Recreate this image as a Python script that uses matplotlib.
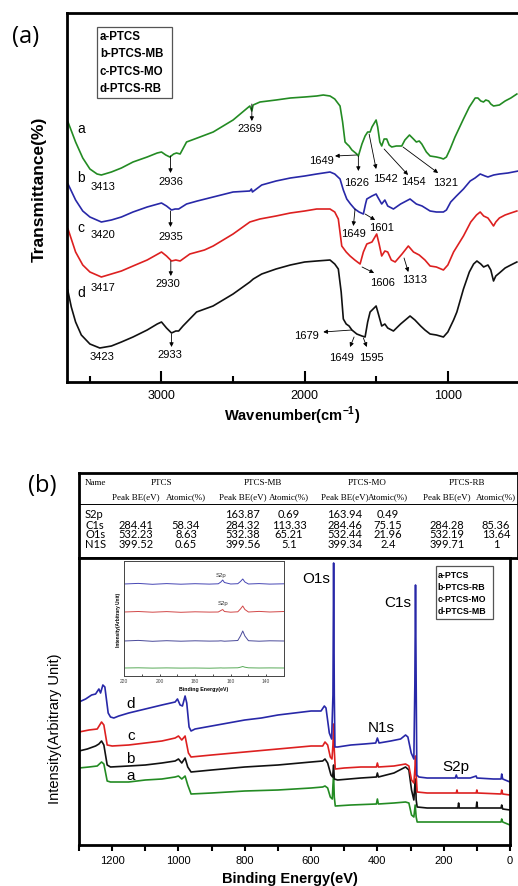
import matplotlib
matplotlib.use("Agg")
import matplotlib.pyplot as plt
from matplotlib.patches import Rectangle
from matplotlib.ticker import MultipleLocator

plt.rcParams.update({
    "font.family": ["Liberation Sans", "DejaVu Sans"],
    "font.size": 9,
    "mathtext.fontset": "custom",
    "mathtext.rm": "Liberation Sans",
    "mathtext.bf": "Liberation Sans:bold",
})

W, H = 518, 887

# ---------------- (a) FTIR spectra: wavenumber (cm-1) vs offset transmittance
ftir_a_x = [3653, 3600, 3550, 3500, 3450, 3420, 3350, 3280, 3199, 3100, 3030, 3000, 2970, 2942,
            2915, 2895, 2870, 2825, 2750, 2639, 2500, 2400, 2383, 2369, 2360, 2312, 2200, 2100,
            2000, 1916, 1870, 1823, 1790, 1753, 1735, 1718, 1705, 1690, 1670, 1636, 1625, 1600,
            1578, 1560, 1543, 1530, 1501, 1490, 1475, 1462, 1445, 1427, 1410, 1392, 1360, 1322,
            1300, 1268, 1240, 1220, 1200, 1182, 1150, 1124, 1080, 1050, 1031, 1010, 984, 950,
            891, 850, 809, 790, 770, 751, 735, 715, 700, 681, 640, 600, 560, 518]
ftir_a_y = [260, 240, 224, 213, 208, 207, 210, 214, 220, 225, 229, 230, 227, 225,
            228, 229, 228, 240, 244, 250, 262, 274, 276, 271, 277, 280, 282, 284,
            285, 286, 287, 286, 283, 276, 260, 240, 238, 236, 232, 228, 226, 238,
            246, 250, 250, 255, 262, 255, 240, 236, 243, 243, 237, 235, 236, 236,
            242, 247, 243, 240, 241, 238, 230, 226, 225, 224, 223, 225, 233, 245,
            263, 275, 284, 284, 281, 280, 282, 281, 278, 276, 277, 281, 284, 288]

ftir_b_x = [3653, 3600, 3550, 3500, 3420, 3350, 3280, 3199, 3100, 3000, 2965, 2930, 2905, 2880,
            2825, 2750, 2639, 2500, 2383, 2372, 2365, 2300, 2200, 2100, 2000, 1916, 1823, 1790,
            1753, 1730, 1706, 1680, 1650, 1620, 1590, 1575, 1566, 1530, 1501, 1490, 1462, 1440,
            1420, 1380, 1330, 1264, 1220, 1180, 1124, 1080, 1031, 1010, 980, 940, 891, 844,
            810, 774, 740, 720, 680, 640, 580, 508]
ftir_b_y = [198, 182, 171, 165, 160, 162, 165, 170, 175, 179, 176, 172, 173, 173,
            178, 181, 185, 190, 191, 193, 190, 197, 201, 204, 206, 208, 210, 208,
            203, 192, 183, 178, 173, 170, 168, 178, 183, 186, 188, 185, 178, 182,
            176, 173, 178, 183, 178, 176, 171, 170, 170, 172, 180, 186, 193, 201,
            204, 208, 206, 205, 207, 208, 209, 211]

ftir_c_x = [3653, 3600, 3550, 3500, 3420, 3350, 3280, 3199, 3100, 3000, 2965, 2930, 2900, 2870,
            2802, 2700, 2639, 2500, 2383, 2313, 2200, 2100, 2000, 1916, 1823, 1790, 1765, 1741,
            1710, 1683, 1650, 1613, 1590, 1566, 1530, 1497, 1480, 1462, 1440, 1420, 1395, 1368,
            1320, 1276, 1240, 1200, 1160, 1124, 1080, 1031, 1000, 960, 891, 840, 800, 774,
            750, 720, 700, 681, 665, 640, 600, 560, 518]
ftir_c_y = [153, 130, 117, 110, 105, 108, 111, 116, 122, 130, 126, 121, 122, 121,
            128, 132, 136, 148, 160, 163, 166, 169, 171, 173, 173, 170, 163, 136,
            130, 126, 122, 118, 130, 138, 140, 148, 138, 126, 131, 130, 122, 120,
            128, 136, 130, 127, 122, 116, 115, 112, 117, 130, 146, 160, 167, 170,
            166, 164, 160, 156, 160, 164, 167, 169, 171]

ftir_d_x = [3655, 3630, 3600, 3560, 3500, 3431, 3350, 3280, 3199, 3100, 3030, 3000, 2965, 2930,
            2900, 2880, 2850, 2755, 2640, 2500, 2383, 2359, 2300, 2200, 2100, 2000, 1916, 1823,
            1790, 1765, 1745, 1730, 1710, 1690, 1670, 1636, 1600, 1578, 1560, 1543, 1501, 1485,
            1462, 1440, 1420, 1380, 1330, 1264, 1230, 1190, 1160, 1124, 1080, 1031, 1000, 960,
            937, 891, 850, 820, 797, 770, 750, 720, 700, 681, 665, 640, 600, 560, 518]
ftir_d_y = [92, 75, 60, 47, 38, 34, 36, 40, 45, 52, 58, 60, 54, 49,
            51, 51, 56, 70, 76, 88, 100, 103, 108, 113, 117, 120, 121, 122,
            118, 113, 90, 63, 58, 56, 52, 48, 46, 45, 60, 70, 76, 68,
            56, 58, 54, 51, 58, 66, 62, 56, 52, 48, 47, 45, 50, 62,
            70, 93, 110, 118, 121, 118, 115, 117, 112, 101, 106, 109, 114, 117, 120]

ftir_labels = ["a-PTCS", "b-PTCS-MB", "c-PTCS-MO", "d-PTCS-RB"]

# peak annotations: text, text position, arrow tail, arrow head
ftir_peaks = [
    ("3413", (3410, 196), None, None),
    ("2936", (2937, 201), (2937, 226), (2937, 209)),
    ("2369", (2383, 254), (2369, 278), (2369, 261)),
    ("1649", (1881, 222), (1636, 227), (1788, 226)),
    ("1626", (1636, 200), (1625, 226), (1625, 211)),
    ("1542", (1438, 204), (1550, 248), (1501, 213)),
    ("1454", (1243, 201), (1445, 233), (1278, 207)),
    ("1321", (1019, 200), (1313, 235), (1068, 209)),
    ("3420", (3408, 148), None, None),
    ("2935", (2937, 146), (2937, 171), (2937, 155)),
    ("1649", (1660, 149), (1648, 173), (1660, 156)),
    ("1601", (1462, 155), (1578, 168), (1508, 162)),
    ("3417", (3408, 95), None, None),
    ("2930", (2954, 99), (2935, 121), (2935, 106)),
    ("1606", (1455, 100), (1599, 115), (1515, 109)),
    ("1313", (1229, 103), (1306, 124), (1276, 110)),
    ("3423", (3413, 26), None, None),
    ("2933", (2942, 28), (2930, 48), (2930, 35)),
    ("1679", (1986, 47), (1671, 52), (1870, 50)),
    ("1649", (1741, 25), (1655, 45), (1683, 35)),
    ("1595", (1531, 25), (1590, 44), (1566, 35)),
]

# ---------------- (b) XPS survey: binding energy (eV) vs offset intensity
xps_d_x = [1300, 1280, 1262, 1250, 1240, 1235, 1228, 1222, 1212, 1205, 1195, 1180, 1150, 1100,
           1050, 1010, 1003, 995, 988, 980, 975, 968, 962, 950, 900, 850, 800, 750, 700, 650,
           600, 570, 560, 555, 545, 538, 534, 532, 530, 528, 520, 480, 440, 405, 400, 395, 360,
           330, 315, 308, 298, 290, 287, 285, 283, 281, 275, 250, 200, 165, 162, 159, 120, 102,
           100, 50, 27, 25, 22, 0]
xps_d_y = [143, 146, 150, 151, 156, 152, 160, 158, 132, 128, 127, 129, 132, 136,
           140, 143, 146, 140, 139, 149, 142, 118, 114, 116, 119, 122, 125, 127, 130, 132,
           134, 134, 139, 137, 112, 106, 150, 282, 150, 98, 98, 100, 101, 102, 107, 102, 104,
           106, 110, 108, 92, 86, 160, 260, 160, 70, 68, 67, 67, 67, 70, 67, 67, 69,
           67, 66, 66, 71, 66, 63]

xps_c_x = [1300, 1270, 1245, 1232, 1225, 1215, 1200, 1150, 1100, 1050, 1010, 1000, 990, 980,
           970, 962, 900, 800, 700, 600, 565, 558, 550, 542, 537, 534, 532, 530, 527, 500,
           450, 403, 400, 397, 350, 315, 305, 297, 290, 287, 285, 283, 280, 250, 200, 162,
           160, 158, 102, 100, 98, 27, 25, 22, 0]
xps_c_y = [113, 115, 116, 123, 120, 100, 99, 100, 102, 104, 107, 109, 105, 109,
           92, 88, 90, 93, 96, 99, 99, 103, 100, 88, 86, 100, 121, 95, 76, 77,
           78, 78, 82, 78, 79, 81, 79, 65, 62, 75, 89, 70, 53, 52, 52, 52,
           55, 52, 52, 55, 52, 51, 55, 51, 50]

xps_b_x = [1300, 1275, 1250, 1240, 1232, 1225, 1215, 1205, 1150, 1100, 1050, 1010, 1000, 990,
           980, 972, 962, 900, 800, 700, 600, 565, 558, 550, 540, 535, 532, 530, 520, 450,
           403, 400, 397, 350, 315, 305, 297, 290, 287, 285, 283, 280, 250, 200, 157, 155,
           153, 102, 100, 98, 27, 25, 22, 0]
xps_b_y = [94, 96, 99, 101, 104, 100, 80, 78, 79, 80, 82, 84, 86, 82,
           87, 78, 73, 75, 78, 80, 83, 84, 86, 82, 70, 68, 80, 66, 65, 67,
           68, 72, 68, 72, 78, 75, 55, 45, 60, 66, 45, 38, 37, 37, 37, 42,
           37, 37, 43, 37, 37, 40, 36, 35]

xps_a_x = [1300, 1270, 1245, 1232, 1225, 1215, 1205, 1150, 1100, 1050, 1010, 1000, 990, 980,
           972, 962, 900, 800, 700, 600, 565, 558, 550, 542, 536, 534, 532, 530, 527, 480,
           403, 400, 397, 350, 315, 305, 297, 290, 286, 283, 280, 250, 200, 100, 27, 25, 22, 0]
xps_a_y = [77, 78, 79, 83, 81, 64, 63, 63, 65, 66, 68, 69, 66, 69,
           60, 51, 52, 54, 55, 57, 58, 59, 57, 48, 46, 60, 69, 48, 39, 40,
           41, 46, 41, 42, 43, 42, 30, 28, 40, 28, 23, 23, 23, 23, 23, 26, 23, 20]

xps_labels = ["a-PTCS", "b-PTCS-RB", "c-PTCS-MO", "d-PTCS-MB"]

# S2p inset
inset_x = [220, 212, 204, 196, 188, 180, 172, 167, 165.5, 164.5, 163.5, 160, 156, 154.5, 153.2,
           152, 150, 144, 138, 130]
inset_top = [92, 92.6, 91.7, 92.4, 91.8, 92.3, 91.9, 92.2, 94, 96, 93.5, 92, 92.3, 94.5, 97,
             94, 92, 92.4, 91.9, 92.2]
inset_red = [64, 64.5, 63.8, 64.4, 63.7, 64.2, 63.9, 64, 65.5, 66.5, 64.5, 63.8, 64.2, 67, 70,
             66.5, 64, 64.6, 64, 64.5]
inset_mid = [35, 35.6, 34.7, 35.3, 34.8, 35.2, 34.9, 35, 35.2, 35, 34.8, 35.1, 35.5, 40, 45,
             40, 35.3, 34.8, 35.2, 35]
inset_green = [8, 8.2, 7.9, 8.1, 7.9, 8, 7.8, 8, 8.1, 8, 8, 8.1, 8.2, 8.8, 9.5,
               8.8, 8.2, 8, 8.1, 8]

# XPS table
tbl_samples = ["PTCS", "PTCS-MB", "PTCS-MO", "PTCS-RB"]
tbl_rows = ["S2p", "C1s", "O1s", "N1S"]
tbl_ptcs = [["", "284.41", "532.23", "399.52"], ["", "58.34", "8.63", "0.65"]]
tbl_mb = [["163.87", "284.32", "532.38", "399.56"], ["0.69", "113.33", "65.21", "5.1"]]
tbl_mo = [["163.94", "284.46", "532.44", "399.34"], ["0.49", "75.15", "21.96", "2.4"]]
tbl_rb = [["", "284.28", "532.19", "399.71"], ["", "85.36", "13.64", "1"]]

GREEN, BLUE, RED, BLACK = "#238b23", "#2828a8", "#dd2020", "#111111"


def fx(px):
    return px / W


def fy(py):
    return 1 - py / H


def add_legend_box(fig, x0, y0, x1, y1, labels, text_x, text_ys, size):
    fig.patches.append(Rectangle((fx(x0), fy(y1)), fx(x1) - fx(x0), fy(y0) - fy(y1),
                                 transform=fig.transFigure, facecolor="white",
                                 edgecolor="#555555", lw=0.9))
    for lab, ty in zip(labels, text_ys):
        fig.text(fx(text_x), fy(ty), lab, fontsize=size, fontweight="bold", va="center")


fig = plt.figure(figsize=(W / 100, H / 100), dpi=100)

# ---------------- panel (a)
ax = fig.add_axes([fx(67), fy(383), fx(518) - fx(67), fy(14) - fy(383)])
ax.plot(ftir_a_x, ftir_a_y, color=GREEN, lw=1.2)
ax.plot(ftir_b_x, ftir_b_y, color=BLUE, lw=1.2)
ax.plot(ftir_c_x, ftir_c_y, color=RED, lw=1.2)
ax.plot(ftir_d_x, ftir_d_y, color=BLACK, lw=1.2)
ax.set_xlim(3660, 510)
ax.set_ylim(0, 369)
ax.set_yticks([])
ax.xaxis.set_major_locator(MultipleLocator(1000))
ax.xaxis.set_minor_locator(MultipleLocator(500))
ax.tick_params(axis="x", which="major", direction="in", length=8, width=1.5, labelsize=9, pad=5)
ax.tick_params(axis="x", which="minor", direction="in", length=4, width=1.5)
for side in ["left", "bottom", "top"]:
    ax.spines[side].set_linewidth(2)
ax.spines["right"].set_visible(False)
ax.set_xlabel(r"Wavenumber(cm$^{\mathbf{-1}}$)", fontsize=10.5, fontweight="bold")
ax.xaxis.set_label_coords(0.5, -0.06)
ax.set_ylabel("Transmittance(%)", fontsize=12.5, fontweight="bold")
ax.yaxis.set_label_coords(-0.045, 0.525)

for lab, h in zip("abcd", [254, 205, 155, 90]):
    ax.text(3590, h, lab, fontsize=10, va="center")
for txt, pos, tail, head in ftir_peaks:
    ax.text(pos[0], pos[1], txt, fontsize=8, ha="center", va="center")
    if tail is not None:
        ax.annotate("", xy=head, xytext=tail,
                    arrowprops=dict(arrowstyle="-|>", color="black", lw=0.6,
                                    mutation_scale=6, shrinkA=0, shrinkB=0))

fig.text(fx(26), fy(37), "(a)", fontsize=17, family="Open Sans", ha="center", va="center")
add_legend_box(fig, 96.7, 28.3, 171.7, 99.3, ftir_labels, 100, [36.7, 53.8, 72, 89.5], 8.3)

# ---------------- panel (b) table
tb = fig.add_axes([fx(79), fy(559), fx(518) - fx(79), fy(474) - fy(559)])
tb.set_xlim(79, 518)
tb.set_ylim(559, 474)
tb.set_xticks([])
tb.set_yticks([])
for sp in tb.spines.values():
    sp.set_linewidth(2)
tb.axhline(505, color="black", lw=0.7)
serif = dict(family="Liberation Serif", fontsize=6.5, va="center")
sans = dict(family="Lato", fontsize=8, va="center")
tb.text(85, 483, "Name", ha="left", **serif)
for name, cx in zip(tbl_samples, [161.7, 263.3, 366.7, 466.7]):
    tb.text(cx, 483, name, ha="center", **serif)
col_be = [136, 243, 345, 447]
col_at = [186, 289, 388, 496]
for cb, ca in zip(col_be, col_at):
    tb.text(cb, 497, "Peak BE(eV)", ha="center", **serif)
    tb.text(ca, 497, "Atomic(%)", ha="center", **serif)
row_y = [515, 525.5, 535, 544.5]
for lab, ry in zip(tbl_rows, row_y):
    tb.text(85, ry, lab, ha="left", **sans)
for block, cb, ca in zip([tbl_ptcs, tbl_mb, tbl_mo, tbl_rb], col_be, col_at):
    for i, ry in enumerate(row_y):
        tb.text(cb, ry, block[0][i], ha="center", **sans)
        tb.text(ca, ry, block[1][i], ha="center", **sans)

# ---------------- panel (b) survey
bx = fig.add_axes([fx(79), fy(846), fx(510) - fx(79), fy(559) - fy(846)])
bx.plot(xps_a_x, xps_a_y, color=GREEN, lw=1.2)
bx.plot(xps_b_x, xps_b_y, color=BLACK, lw=1.2)
bx.plot(xps_c_x, xps_c_y, color=RED, lw=1.2)
bx.plot(xps_d_x, xps_d_y, color=BLUE, lw=1.2)
bx.set_xlim(1300, 0)
bx.set_ylim(0, 287)
bx.set_yticks([])
bx.xaxis.set_major_locator(MultipleLocator(200))
bx.xaxis.set_minor_locator(MultipleLocator(100))
bx.tick_params(axis="x", which="both", direction="out", length=4, width=1.5, labelsize=8, pad=3)
for sp in bx.spines.values():
    sp.set_linewidth(2)
bx.set_xlabel("Binding Energy(eV)", fontsize=10.5, fontweight="bold")
bx.xaxis.set_label_coords(0.49, -0.09)
bx.set_ylabel("Intensity(Arbitrary Unit)", fontsize=10.5)
bx.yaxis.set_label_coords(-0.039, 0.41)

for lab, h in zip("dcba", [142, 110, 87, 70]):
    bx.text(1144, h, lab, fontsize=11, ha="center", va="center")
for lab, x, h in [("O1s", 585, 267), ("C1s", 338, 243), ("N1s", 388, 118), ("S2p", 164, 79)]:
    bx.text(x, h, lab, fontsize=11, ha="center", va="center")

fig.text(fx(42), fy(486), "(b)", fontsize=17, family="Open Sans", ha="center", va="center")
add_legend_box(fig, 435.7, 567, 493.3, 620, xps_labels, 437.7, [575, 587, 599.3, 611.5], 6.3)

# inset with the S2p region
ix = fig.add_axes([fx(124), fy(677), fx(284) - fx(124), fy(562) - fy(677)])
ix.plot(inset_x, inset_top, color="#4646b4", lw=0.7)
ix.plot(inset_x, inset_red, color="#d24848", lw=0.7)
ix.plot(inset_x, inset_mid, color="#4a4a9a", lw=0.7)
ix.plot(inset_x, inset_green, color="#58aa58", lw=0.7)
ix.set_xlim(220, 130)
ix.set_ylim(0, 115)
ix.set_yticks([])
ix.xaxis.set_major_locator(MultipleLocator(20))
ix.xaxis.set_minor_locator(MultipleLocator(10))
ix.tick_params(axis="x", which="both", direction="in", length=1.5, width=0.5,
               labelsize=3.5, pad=1.5, labelcolor="#444444")
for sp in ix.spines.values():
    sp.set_linewidth(0.7)
    sp.set_color("#444444")
ix.set_xlabel("Binding Energy(eV)", fontsize=3.8, fontweight="bold", labelpad=2)
ix.set_ylabel("Intensity(Arbitrary Unit)", fontsize=3.4, fontweight="bold", labelpad=2)
ix.text(165.2, 101, "S2p", fontsize=4.3, ha="center", va="center", color="#333333")
ix.text(164.3, 73, "S2p", fontsize=4.3, ha="center", va="center", color="#333333")

fig.savefig("out.png", dpi=100)
